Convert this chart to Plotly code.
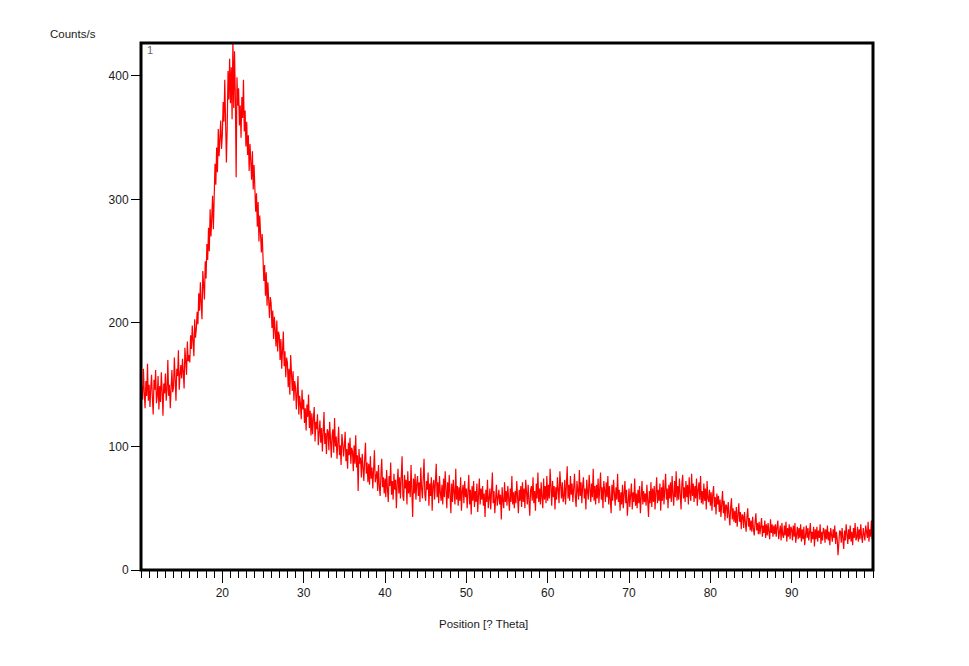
import numpy as np
import plotly.graph_objects as go

# 2-theta scan grid (degrees), step 0.1
theta_start = 10.0
theta_step = 0.1

# Counts/s, one decade per array (10 values per degree)
counts_10s = [
    122, 149, 138, 163, 144, 131, 153, 141, 167, 137,
    150, 132, 147, 158, 139, 126, 154, 146, 162, 135,
    141, 157, 130, 149, 136, 160, 145, 125, 151, 143,
    159, 137, 146, 170, 141, 150, 131, 155, 162, 144,
    148, 172, 152, 137, 163, 157, 178, 146, 158, 166,
    155, 171, 160, 147, 180, 165, 158, 185, 169, 174,
    168, 190, 179, 198, 184, 173, 203, 188, 195, 209,
    199, 224, 210, 233, 216, 203, 242, 228, 219, 250,
    236, 264, 251, 277, 258, 292, 270, 285, 303, 276,
    298, 329, 312, 342, 322, 357, 335, 350, 364, 341,
]
counts_20s = [
    352, 379, 363, 397, 370, 330, 358, 404, 381, 414,
    378, 407, 365, 430, 374, 420, 383, 318, 399, 376,
    390, 360, 376, 350, 383, 366, 397, 355, 372, 343,
    363, 336, 352, 323, 345, 332, 316, 339, 308, 328,
    313, 290, 305, 278, 298, 266, 287, 274, 257, 272,
    254, 234, 247, 222, 241, 214, 233, 222, 204, 221,
    216, 196, 210, 187, 205, 194, 181, 202, 177, 193,
    190, 170, 187, 163, 180, 193, 165, 177, 156, 172,
    168, 148, 163, 142, 174, 153, 145, 161, 137, 153,
    148, 130, 145, 157, 126, 141, 135, 122, 146, 130,
]
counts_30s = [
    138, 119, 131, 113, 134, 124, 142, 115, 129, 109,
    127, 110, 123, 132, 104, 120, 114, 126, 101, 118,
    121, 103, 115, 96, 113, 128, 102, 111, 94, 114,
    112, 97, 120, 100, 91, 109, 114, 95, 123, 100,
    108, 90, 105, 116, 93, 101, 85, 110, 103, 92,
    100, 112, 88, 98, 82, 103, 93, 107, 86, 99,
    96, 80, 101, 86, 109, 83, 93, 64, 98, 86,
    91, 75, 94, 81, 72, 90, 103, 78, 87, 71,
    86, 69, 92, 74, 83, 66, 81, 97, 71, 79,
    80, 64, 85, 68, 60, 77, 90, 67, 75, 62,
]
counts_40s = [
    74, 59, 81, 66, 55, 76, 68, 87, 61, 72,
    57, 78, 65, 73, 50, 70, 82, 62, 75, 58,
    71, 92, 60, 56, 77, 66, 73, 53, 80, 62,
    72, 59, 85, 67, 43, 74, 62, 78, 57, 70,
    76, 60, 71, 55, 83, 66, 58, 74, 90, 61,
    56, 72, 65, 79, 52, 70, 60, 75, 48, 69,
    73, 57, 68, 86, 59, 71, 54, 76, 63, 56,
    69, 53, 74, 59, 80, 64, 50, 71, 58, 77,
    65, 46, 70, 55, 73, 60, 53, 82, 57, 68,
    52, 67, 56, 75, 48, 64, 69, 54, 72, 59,
]
counts_50s = [
    66, 50, 62, 77, 53, 65, 45, 68, 56, 72,
    51, 64, 55, 70, 47, 63, 74, 53, 66, 57,
    68, 52, 62, 43, 65, 55, 73, 50, 61, 66,
    49, 62, 79, 54, 64, 46, 60, 69, 52, 63,
    65, 53, 61, 41, 67, 56, 50, 71, 55, 64,
    52, 68, 58, 48, 66, 55, 76, 53, 63, 50,
    64, 54, 72, 57, 46, 65, 56, 68, 51, 71,
    55, 66, 50, 73, 58, 53, 69, 59, 44, 65,
    68, 56, 75, 54, 64, 48, 70, 58, 79, 55,
    66, 53, 71, 59, 50, 74, 57, 68, 54, 76,
]
counts_60s = [
    56, 69, 58, 82, 63, 52, 72, 59, 68, 49,
    67, 57, 75, 60, 54, 80, 62, 58, 71, 55,
    59, 73, 53, 68, 84, 58, 69, 56, 76, 61,
    70, 55, 66, 78, 59, 51, 72, 63, 57, 81,
    60, 71, 54, 68, 75, 58, 66, 49, 73, 63,
    57, 77, 61, 55, 70, 59, 82, 56, 68, 53,
    69, 58, 74, 54, 66, 79, 57, 67, 50, 72,
    65, 55, 71, 59, 76, 53, 68, 58, 46, 69,
    56, 73, 60, 52, 67, 57, 78, 55, 65, 48,
    63, 53, 69, 50, 62, 72, 54, 65, 44, 61,
]
counts_70s = [
    66, 51, 60, 70, 49, 63, 55, 74, 52, 62,
    50, 65, 54, 68, 46, 61, 72, 53, 64, 55,
    62, 52, 69, 56, 43, 64, 54, 71, 51, 66,
    55, 68, 49, 63, 75, 54, 65, 56, 70, 48,
    67, 56, 73, 53, 64, 78, 57, 66, 50, 69,
    58, 71, 55, 76, 61, 52, 72, 59, 80, 56,
    68, 57, 74, 61, 49, 70, 77, 58, 67, 55,
    72, 59, 69, 53, 75, 62, 56, 78, 60, 70,
    55, 68, 58, 74, 52, 65, 71, 57, 76, 54,
    64, 53, 70, 56, 66, 49, 72, 58, 55, 65,
]
counts_80s = [
    52, 63, 48, 61, 68, 51, 59, 45, 62, 53,
    60, 47, 57, 43, 55, 64, 46, 56, 40, 53,
    52, 42, 55, 45, 36, 51, 58, 41, 50, 39,
    48, 38, 51, 35, 46, 54, 39, 47, 33, 45,
    44, 34, 47, 37, 31, 43, 50, 35, 42, 32,
    40, 31, 43, 33, 28, 39, 46, 32, 38, 29,
    39, 29, 37, 42, 27, 36, 30, 40, 26, 37,
    28, 38, 31, 25, 41, 30, 37, 27, 36, 29,
    37, 27, 35, 40, 25, 33, 36, 24, 38, 28,
    26, 36, 28, 39, 23, 34, 27, 37, 25, 35,
]
counts_90s = [
    33, 24, 36, 27, 38, 22, 32, 35, 25, 34,
    26, 37, 23, 33, 25, 35, 20, 32, 36, 26,
    34, 24, 32, 38, 22, 31, 25, 35, 19, 33,
    25, 35, 23, 32, 26, 37, 21, 31, 24, 34,
    32, 22, 33, 25, 36, 24, 31, 20, 34, 26,
    23, 33, 26, 36, 21, 31, 25, 12, 24, 32,
    31, 22, 34, 25, 17, 32, 24, 37, 26, 21,
    33, 25, 36, 23, 31, 20, 34, 26, 38, 24,
    26, 35, 23, 33, 25, 37, 27, 22, 34, 28,
    24, 36, 28, 26, 39, 23, 33, 27, 40, 25,
    35,
]

counts = (counts_10s + counts_20s + counts_30s + counts_40s + counts_50s
          + counts_60s + counts_70s + counts_80s + counts_90s)
two_theta = np.round(theta_start + theta_step * np.arange(len(counts)), 1)

x_major_ticks = [20, 30, 40, 50, 60, 70, 80, 90]
y_major_ticks = [0, 100, 200, 300, 400]

FONT = "Liberation Sans, Arial, sans-serif"

fig = go.Figure()
fig.add_trace(go.Scatter(
    x=two_theta, y=counts, mode="lines",
    line=dict(color="#ff0000", width=1.2),
    hoverinfo="skip", showlegend=False,
))

fig.update_layout(
    width=969, height=666,
    margin=dict(l=141, r=96, t=43, b=96),
    paper_bgcolor="white", plot_bgcolor="white",
    font=dict(family=FONT, size=12, color="#1a1a1a"),
    xaxis=dict(
        range=[10, 100], tickmode="array", tickvals=x_major_ticks,
        ticks="outside", ticklen=12, tickwidth=1, tickcolor="black",
        showgrid=False, zeroline=False, showline=False,
        tickfont=dict(size=12, color="#1a1a1a"),
        minor=dict(tickmode="linear", tick0=0, dtick=1, ticks="outside",
                   ticklen=7, tickwidth=1, tickcolor="black", showgrid=False),
    ),
    yaxis=dict(
        range=[0, 426.7], tickmode="array", tickvals=y_major_ticks,
        ticks="outside", ticklen=9, tickwidth=1, tickcolor="black",
        showgrid=False, zeroline=False, showline=False,
        tickfont=dict(size=12, color="#1a1a1a"),
    ),
    shapes=[
        dict(type="rect", xref="paper", yref="paper", x0=0, x1=1, y0=0, y1=1,
             line=dict(color="black", width=3), layer="above"),
    ],
    annotations=[
        dict(text="Counts/s", xref="paper", yref="paper",
             x=(48 - 141) / 732, y=(570 - 34) / 527, xanchor="left", yanchor="middle",
             showarrow=False, font=dict(size=11.5, family=FONT, color="#1a1a1a")),
        dict(text="Position [? Theta]", xref="paper", yref="paper",
             x=(483 - 141) / 732, y=(570 - 624) / 527, xanchor="center", yanchor="middle",
             showarrow=False, font=dict(size=11.5, family=FONT, color="#1a1a1a")),
        dict(text="1", xref="paper", yref="paper",
             x=(145 - 141) / 732, y=(570 - 50) / 527, xanchor="left", yanchor="middle",
             showarrow=False, font=dict(size=11, family=FONT, color="#666666")),
    ],
)

fig.write_html("out.html", config={"displayModeBar": False})
